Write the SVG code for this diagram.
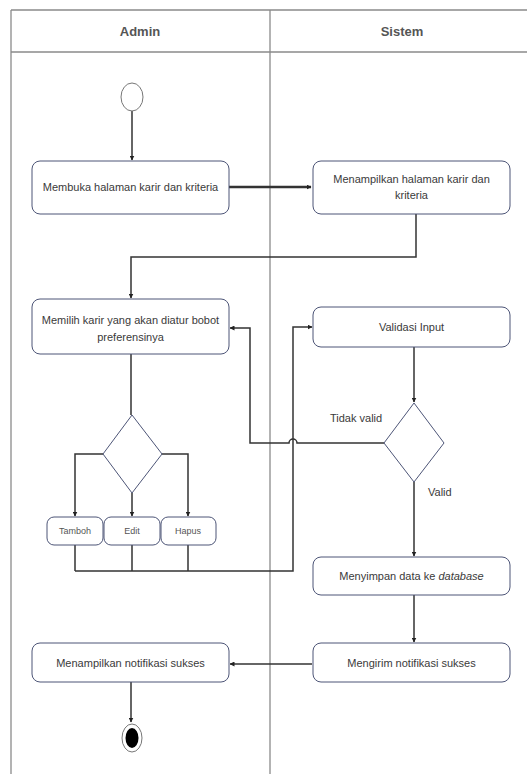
<svg xmlns="http://www.w3.org/2000/svg" width="527" height="774" viewBox="0 0 527 774">
<style>
.lane{stroke:#8a8a8a;stroke-width:1.3;fill:none}
.hdr{font-family:"Liberation Sans",Arial,sans-serif;font-size:13px;font-weight:bold;fill:#555;text-anchor:middle}
.box{fill:#fff;stroke:#4d5577;stroke-width:1}
.t{font-family:"Liberation Sans",Arial,sans-serif;font-size:11px;fill:#3a3a3a;text-anchor:middle}
.ts{font-family:"Liberation Sans",Arial,sans-serif;font-size:9px;fill:#555;text-anchor:middle}
.lbl{font-family:"Liberation Sans",Arial,sans-serif;font-size:11px;fill:#3a3a3a}
.c{stroke:#333;stroke-width:1.5;fill:none}
.dia{fill:#fff;stroke:#4d5577;stroke-width:1}
</style>
<defs>
<marker id="ah" viewBox="0 0 10 10" refX="9" refY="5" markerWidth="5" markerHeight="5" orient="auto" markerUnits="userSpaceOnUse">
<path d="M0,0 L10,5 L0,10 z" fill="#222"/>
</marker>
</defs>
<rect width="527" height="774" fill="#fff"/>
<g id="lanes">
<line class="lane" x1="11" y1="10" x2="527" y2="10"/>
<line class="lane" x1="11" y1="52" x2="527" y2="52"/>
<line class="lane" x1="11" y1="10" x2="11" y2="774"/>
<line class="lane" x1="270" y1="10" x2="270" y2="774"/>
<text class="hdr" x="140" y="36">Admin</text>
<text class="hdr" x="402" y="36">Sistem</text>
</g>
<g id="connectors">
<path class="c" d="M132,111 V160" marker-end="url(#ah)"/>
<path class="c" style="stroke-width:2.6" d="M229,187 H311" marker-end="url(#ah)"/>
<path class="c" d="M416,214 V257 H131 V298" marker-end="url(#ah)"/>
<path class="c" d="M131,354 V415"/>
<path class="c" d="M103,454 H75 V516" marker-end="url(#ah)"/>
<path class="c" d="M132,493 V516" marker-end="url(#ah)"/>
<path class="c" d="M162,454 H188 V516" marker-end="url(#ah)"/>
<path class="c" d="M75,545 V571 M132,545 V571 M188,545 V571"/>
<path class="c" d="M75,571 H293 V327 H312" marker-end="url(#ah)"/>
<path class="c" d="M414,347 V402" marker-end="url(#ah)"/>
<path class="c" d="M384,443 H297 A4,4 0 0 0 289,443 H250 V328 H230" marker-end="url(#ah)"/>
<path class="c" d="M414,482 V556" marker-end="url(#ah)"/>
<path class="c" d="M414,595 V642" marker-end="url(#ah)"/>
<path class="c" d="M312,664 H230" marker-end="url(#ah)"/>
<path class="c" d="M131,682 V722" marker-end="url(#ah)"/>
<text class="lbl" x="330" y="422">Tidak valid</text>
<text class="lbl" x="428" y="496">Valid</text>
</g>
<g id="start"><ellipse cx="132" cy="97" rx="11" ry="14" fill="#fff" stroke="#777" stroke-width="1"/></g>
<g id="n1"><rect class="box" x="32" y="161" width="197" height="53" rx="8"/><text class="t" x="130.5" y="191">Membuka halaman karir dan kriteria</text></g>
<g id="n2"><rect class="box" x="313" y="161" width="197" height="53" rx="8"/><text class="t" x="411.5" y="183">Menampilkan halaman karir dan</text><text class="t" x="411.5" y="199">kriteria</text></g>
<g id="n3"><rect class="box" x="32" y="299" width="197" height="55" rx="8"/><text class="t" x="130.5" y="324">Memilih karir yang akan diatur bobot</text><text class="t" x="130.5" y="341">preferensinya</text></g>
<g id="n4"><rect class="box" x="313" y="307" width="197" height="40" rx="8"/><text class="t" x="411.5" y="331">Validasi Input</text></g>
<g id="d1"><path class="dia" d="M132,415 L162,454 L132,493 L103,454 Z"/></g>
<g id="d2"><path class="dia" d="M414,403 L444,443 L414,482 L384,443 Z"/></g>
<g id="tambah"><rect class="box" x="47" y="517" width="56" height="28" rx="7"/><text class="ts" x="75" y="534">Tamboh</text></g>
<g id="edit"><rect class="box" x="104" y="517" width="56" height="28" rx="7"/><text class="ts" x="132" y="534">Edit</text></g>
<g id="hapus"><rect class="box" x="161" y="517" width="55" height="28" rx="7"/><text class="ts" x="188" y="534">Hapus</text></g>
<g id="n5"><rect class="box" x="313" y="557" width="197" height="38" rx="8"/><text class="t" x="411.5" y="580">Menyimpan data ke <tspan font-style="italic">database</tspan></text></g>
<g id="n6"><rect class="box" x="313" y="643" width="197" height="39" rx="8"/><text class="t" x="411.5" y="667">Mengirim notifikasi sukses</text></g>
<g id="n7"><rect class="box" x="32" y="643" width="197" height="39" rx="8"/><text class="t" x="130.5" y="667">Menampilkan notifikasi sukses</text></g>
<g id="end"><ellipse cx="132" cy="738" rx="10" ry="14" fill="#fff" stroke="#777" stroke-width="1"/><ellipse cx="132" cy="738" rx="6.5" ry="10" fill="#000"/></g>
</svg>
